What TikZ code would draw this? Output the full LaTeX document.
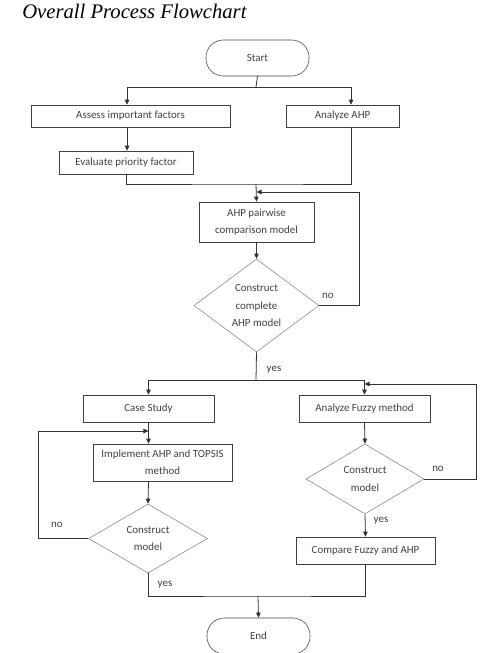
\documentclass[tikz,border=0pt]{standalone}
\usepackage{fontspec}
\setmainfont{Carlito}
\newfontfamily\titlefont{Liberation Serif}
\usetikzlibrary{shapes.geometric,arrows.meta}
\tikzset{
  % Specifications for style of nodes:
  base/.style = {
    rectangle,
    draw=black!75,
    text=black!75,
    align=center,
    inner sep=0pt,
    font=\fontsize{8.2}{12.8}\selectfont
  },
  terminal/.style = {
    base,
    rounded corners=13pt,
    minimum width=77.25pt,
    minimum height=27pt
  },
  process/.style = {
    base,
    minimum height=16.5pt
  },
  decision/.style = {
    base,
    diamond,
    draw=black!50
  },
  lbl/.style = {
    text=black!75,
    inner sep=0pt,
    font=\fontsize{8.2}{9}\selectfont
  },
  line/.style = {
    draw=black!80,
    line width=0.6pt
  },
  arr/.style = {
    line,
    -{Triangle[length=3.8pt,width=3.4pt]}
  },
}
\begin{document}
\begin{tikzpicture}[x=0.75pt,y=-0.75pt]
    \useasboundingbox (0,0) rectangle (479,653);
    % Title
    \node[anchor=base west, inner sep=0pt, font=\titlefont\itshape\fontsize{15.5}{17}\selectfont]
      (title) at (22,18) {Overall Process Flowchart};
    % Specification of nodes (position, etc.)
    \node[terminal] (start) at (257.5,58)                                 {Start};
    \node[process, minimum width=149.25pt] (assess) at (130.5,116)        {Assess important factors};
    \node[process, minimum width=84.75pt]  (ahp)    at (342.5,116)        {Analyze AHP};
    \node[process, minimum width=100.5pt, minimum height=17.25pt]
      (eval) at (126,162.5)                                               {Evaluate priority factor};
    \node[process, minimum width=86.25pt, minimum height=30pt]
      (pair) at (256.5,222)                                               {AHP pairwise\\comparison model};
    \node[decision, minimum width=93.75pt, minimum height=69.75pt]
      (dec1) at (256.5,305.5)                                             {Construct\\complete\\AHP model};
    \node[process, minimum width=98.25pt, minimum height=20.25pt]
      (case) at (148.5,408.5)                                             {Case Study};
    \node[process, minimum width=98.25pt, minimum height=20.25pt]
      (fuzzy) at (364.5,408.5)                                            {Analyze Fuzzy method};
    \node[process, minimum width=104.25pt, minimum height=27.75pt]
      (impl) at (162.5,462.5)                                             {Implement AHP and TOPSIS\\method};
    \node[decision, minimum width=89.25pt, minimum height=51.75pt]
      (dec2) at (148,538.5)                                               {Construct\\model};
    \node[decision, minimum width=88.5pt, minimum height=52.5pt]
      (dec3) at (365,479)                                                 {Construct\\model};
    \node[process, minimum width=104.25pt, minimum height=20.25pt]
      (comp) at (365.5,550.5)                                             {Compare Fuzzy and AHP};
    \node[terminal] (end) at (258.5,636)                                  {End};
    % Labels
    \node[lbl] (no1)  at (328,296) {no};
    \node[lbl] (yes1) at (274,370) {yes};
    \node[lbl] (no2)  at (57,525)  {no};
    \node[lbl] (yes2) at (165,585) {yes};
    \node[lbl] (no3)  at (438,469) {no};
    \node[lbl] (yes3) at (381,521) {yes};
    % Branch and loop points
    \coordinate (split1) at (256,87);
    \coordinate (join1)  at (256,184);
    \coordinate (loop1)  at (359,192);
    \coordinate (split2) at (256,380);
    \coordinate (loop2)  at (38,431);
    \coordinate (loop3)  at (476,384);
    \coordinate (join2)  at (258,596);
    % Connectors
    \draw[line] (start.south) -- (split1);
    \draw[arr] (split1) -| ([xshift=-2.6pt]assess.north);
    \draw[arr] (split1) -| ([xshift=6.4pt]ahp.north);
    \draw[arr] ([xshift=-2.6pt]assess.south) -- ([xshift=-2.6pt]assess.south |- eval.north);
    \draw[line] (eval.south) |- (join1) -| ([xshift=6.4pt]ahp.south);
    \draw[arr] (join1) -- (pair.north);
    \draw[arr] (pair.south) -- (dec1.north);
    \draw[arr] (dec1.east) -| (loop1) -- (loop1 -| pair.north);
    \draw[line] (dec1.south) -- (split2);
    \draw[arr] (split2) -| (case.north);
    \draw[arr] (split2) -| (fuzzy.north);
    \draw[arr] (case.south) -- (case.south |- impl.north);
    \draw[arr] (case.south |- impl.south) -- (dec2.north);
    \draw[arr] (dec2.west) -| (loop2) -- (loop2 -| case.south);
    \draw[arr] (fuzzy.south) -- (dec3.north);
    \draw[arr] (dec3.east) -| (loop3) -- (loop3 -| fuzzy.north);
    \draw[arr] (dec3.south) -- (comp.north);
    \draw[line] (dec2.south) |- (join2) -| (comp.south);
    \draw[arr] (join2) -- (end.north);
\end{tikzpicture}
\end{document}
